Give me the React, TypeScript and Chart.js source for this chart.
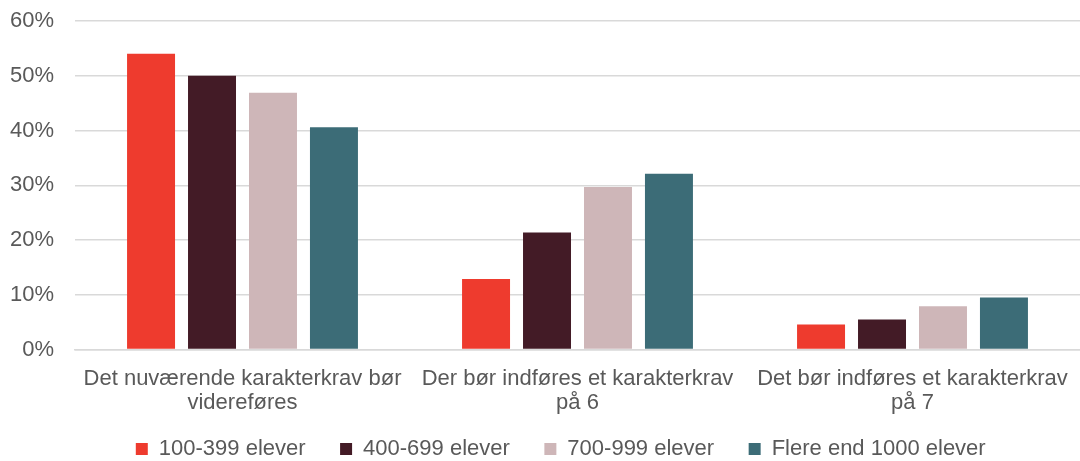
import React, { useEffect, useRef } from "react";
import { Chart, registerables } from "chart.js";

Chart.register(...registerables);

const categories: string[][] = [
  ["Det nuværende karakterkrav bør", "videreføres"],
  ["Der bør indføres et karakterkrav", "på 6"],
  ["Det bør indføres et karakterkrav", "på 7"],
];
const seriesNames = ["100-399 elever", "400-699 elever", "700-999 elever", "Flere end 1000 elever"];
const s100 = [54, 12.9, 4.6];
const s400 = [50, 21.4, 5.5];
const s700 = [46.9, 29.7, 7.9];
const s1000 = [40.6, 32.1, 9.5];
const colors = ["#EE3B2E", "#431B26", "#CEB6B8", "#3C6C77"];

const legendShift = {
  id: "legendShift",
  afterLayout(chart: any) {
    const l = chart.legend;
    if (l) {
      l.left += 21;
      l.right += 21;
    }
  },
};

export default function App() {
  const ref = useRef<HTMLCanvasElement>(null);
  useEffect(() => {
    if (!ref.current) return;
    const font = { family: "'Liberation Sans', Arial, sans-serif", size: 22, lineHeight: 1.1 };
    const chart = new Chart(ref.current, {
      type: "bar",
      data: {
        labels: categories,
        datasets: [s100, s400, s700, s1000].map((d, i) => ({
          label: seriesNames[i],
          data: d,
          backgroundColor: colors[i],
          categoryPercentage: 0.728,
          barPercentage: 0.787,
        })),
      },
      plugins: [legendShift],
      options: {
        animation: false,
        responsive: false,
        layout: { padding: { top: 21, right: 0, left: 10, bottom: -9 } },
        plugins: {
          legend: {
            position: "bottom",
            labels: {
              font,
              color: "#595959",
              boxWidth: 12,
              boxHeight: 12,
              padding: 24,
              generateLabels: (c: any) =>
                Chart.defaults.plugins.legend.labels.generateLabels(c).map((it: any) => ({
                  ...it,
                  text: it.text + " \u2009",
                })),
            },
          },
          tooltip: { enabled: false },
        },
        scales: {
          x: {
            grid: { display: false, drawTicks: false },
            border: { color: "#D9D9D9", width: 1.5 },
            ticks: { font, color: "#595959", autoSkip: false, maxRotation: 0, padding: 17 },
            afterFit: (s: any) => {
              s.paddingLeft = 0;
              s.paddingRight = 0;
              s.height = s.height - 18;
            },
          },
          y: {
            min: 0,
            max: 60,
            grid: { color: "#D9D9D9", lineWidth: 1.5, drawTicks: false },
            border: { display: false },
            ticks: {
              stepSize: 10,
              font,
              color: "#595959",
              padding: 21,
              callback: (v: any) => v + "%",
            },
            afterFit: (s: any) => {
              s.width = 65;
              s.paddingTop = 0;
              s.paddingBottom = 0;
            },
          },
        },
      },
    });
    return () => chart.destroy();
  }, []);
  return (
    <div style={{ position: "fixed", left: 0, top: 0, width: 1080, height: 461, background: "#fff" }}>
      <canvas ref={ref} width={1080} height={461} style={{ width: 1080, height: 461 }} />
    </div>
  );
}
